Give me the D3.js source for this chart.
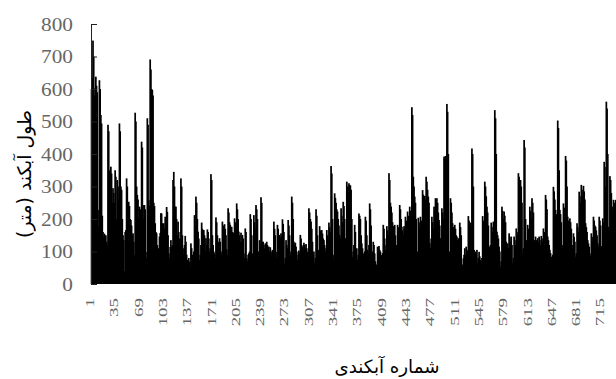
<!DOCTYPE html>
<html>
<head>
<meta charset="utf-8">
<script src="https://cdn.jsdelivr.net/npm/d3@7"></script>
<style>
  html, body { margin: 0; padding: 0; background: #fff; }
  svg { display: block; }
</style>
</head>
<body>
<svg id="chart" width="616" height="379"></svg>
<script>
// Gully lengths (m), gully #1 ... #734
const gullyLengths = [
  // 1 - 118
  600, 634, 749, 700, 580, 602, 638, 610, 590, 228, 176, 627, 600, 520, 494, 210,
  160, 145, 155, 140, 150, 130, 120, 490, 470, 350, 330, 361, 340, 250, 295, 280, 250,
  350, 330, 200, 320, 300, 260, 494, 470, 300, 290, 200, 150, 135, 40, 160, 166,
  325, 300, 180, 253, 240, 200, 197, 180, 150, 156, 130, 90, 527, 500, 300,
  274, 260, 200, 238, 230, 100, 438, 420, 243, 200, 243, 230, 99, 80, 510, 490,
  258, 240, 691, 660, 600, 597, 580, 250, 240, 187, 160, 156, 120, 48, 110,
  146, 157, 218, 217, 187, 160, 187, 170, 207, 180, 237, 222, 150, 94, 80, 114,
  135, 114, 120, 320, 345, 300, 238,
  // 119 - 240
  238, 200, 150, 192, 160, 140, 120, 325, 300, 150, 110, 90, 120, 148, 130, 90,
  74, 60, 80, 69, 50, 125, 110, 90, 58, 100, 212, 180, 269, 250, 200, 161, 140,
  74, 90, 120, 189, 170, 150, 166, 150, 100, 141, 120, 168, 160, 140, 99, 110,
  338, 320, 150, 120, 100, 94, 80, 205, 190, 150, 130, 120, 141, 130, 100, 90,
  192, 180, 160, 184, 170, 150, 107, 90, 233, 220, 190, 182, 170, 176, 160, 158, 120,
  202, 190, 170, 248, 230, 200, 161, 150, 130, 158, 130, 151, 140, 94, 80, 171, 160,
  79, 70, 90, 94, 100, 215, 200, 150, 94, 80, 212, 190, 170, 243, 230, 200,
  84, 100, 135, 120, 267, 250, 130,
  // 241 - 360
  130, 120, 110, 125, 110, 130, 120, 100, 115, 100, 113, 100, 90, 105, 95,
  192, 170, 150, 99, 80, 182, 170, 150, 151, 140, 156, 145, 199, 185, 160, 64, 80,
  135, 120, 110, 197, 180, 150, 89, 100, 269, 250, 200, 130, 120, 127, 115, 100,
  74, 90, 103, 95, 151, 140, 120, 115, 100, 127, 120, 110, 123, 110, 99, 85,
  233, 220, 200, 192, 170, 130, 89, 100, 64, 80, 230, 210, 150, 105, 95,
  178, 165, 150, 166, 155, 140, 135, 120, 99, 110, 166, 150, 140, 189, 175, 160,
  363, 340, 200, 74, 90, 279, 265, 250, 230, 223, 200, 180, 151, 140,
  233, 210, 190, 253, 240, 200, 141, 130, 315, 300, 280,
  // 361 - 483
  310, 305, 303, 290, 200, 84, 100, 120, 182, 160, 94, 110, 74, 90,
  217, 210, 200, 150, 125, 110, 94, 80, 100, 207, 195, 150, 105, 95, 120,
  248, 230, 180, 89, 100, 130, 120, 94, 70, 53, 60, 115, 110, 117, 105, 100,
  89, 75, 95, 182, 170, 140, 105, 120, 178, 165, 150, 341, 320, 250, 238, 220, 190,
  178, 160, 182, 150, 105, 120, 182, 175, 160, 243, 230, 200, 176, 165, 150, 178, 170,
  207, 195, 180, 223, 210, 190, 238, 225, 210, 544, 520, 330, 300, 269, 250, 200,
  79, 100, 204, 190, 170, 207, 195, 180, 289, 275, 250, 271, 260, 330, 315, 290,
  269, 250, 125, 110, 140, 207, 190, 170, 238, 225, 264, 250,
  // 484 - 606
  264, 250, 220, 197, 180, 141, 130, 233, 220, 200, 392, 385, 394, 380, 554, 530, 400,
  79, 100, 264, 250, 220, 187, 175, 160, 182, 170, 150, 146, 135, 141, 120,
  189, 175, 150, 43, 60, 79, 90, 110, 90, 115, 105, 100, 209, 195, 180, 189, 175,
  417, 400, 300, 105, 95, 100, 90, 105, 64, 80, 99, 85, 74, 65, 80, 209, 195, 180,
  315, 300, 270, 238, 220, 180, 115, 105, 120, 189, 175, 160, 192, 185, 535, 510, 400,
  161, 150, 140, 115, 100, 53, 70, 238, 225, 200, 223, 210, 190, 130, 120, 125, 110,
  156, 145, 130, 146, 120, 64, 80, 146, 135, 120, 171, 160, 150, 341, 330, 300,
  320, 300, 250, 94, 110, 443,
  // 607 - 734
  420, 200, 135, 120, 182, 170, 150, 238, 225, 200, 264, 250, 220, 135, 120,
  146, 135, 125, 141, 130, 146, 135, 120, 148, 140, 130, 171, 160, 150, 274, 260, 230,
  146, 135, 120, 105, 95, 84, 70, 90, 299, 285, 260, 228, 215, 200, 503, 480, 350,
  228, 215, 190, 120, 110, 248, 235, 210, 394, 380, 300, 207, 195, 180, 202, 190, 170,
  120, 110, 156, 145, 130, 84, 95, 187, 175, 160, 284, 270, 250, 305, 290, 270,
  302, 285, 260, 187, 175, 160, 135, 125, 115, 94, 85, 156, 145, 130, 207, 195, 180,
  176, 165, 150, 125, 115, 207, 195, 180, 117, 110, 202, 190, 376, 360, 300,
  561, 540, 400, 176, 165, 332, 320, 280, 238, 225, 259, 250, 240, 259
];

const xTickLabels = [1, 35, 69, 103, 137, 171, 205, 239, 273, 307, 341, 375, 409, 443,
                     477, 511, 545, 579, 613, 647, 681, 715];
const yTickValues = [0, 100, 200, 300, 400, 500, 600, 700, 800];
const yAxisTitle = "طول آبکند (متر)";
const xAxisTitle = "شماره آبکندی";

const svg = d3.select("#chart");
const gullyIds = gullyLengths.map((d, i) => i + 1);

const x = d3.scaleBand().domain(gullyIds).range([90.7, 615.5]).padding(0);
const y = d3.scaleLinear().domain([0, 800]).range([284, 24]);

// bars (slightly widened so neighbouring bars merge into solid black like the original)
svg.append("g")
  .selectAll("rect")
  .data(gullyLengths)
  .join("rect")
  .attr("x", (d, i) => x(gullyIds[i]))
  .attr("width", Math.min(x.bandwidth() + 1.0, 615.5))
  .attr("y", d => y(d))
  .attr("height", d => y(0) - y(d))
  .attr("fill", "#000");

// y axis line + inner ticks
const yAxisG = svg.append("g")
  .attr("transform", "translate(91,0)")
  .call(d3.axisRight(y).tickValues(yTickValues).tickSize(6).tickSizeOuter(0).tickFormat(""));
yAxisG.selectAll("path, line").attr("stroke", "#222").attr("stroke-width", 1);

// y tick labels
const yLab = svg.append("g")
  .selectAll("text")
  .data(yTickValues)
  .join("text")
  .attr("x", 73)
  .attr("y", d => y(d))
  .attr("dy", "0.35em")
  .attr("text-anchor", "end")
  .attr("font-family", "'Liberation Serif', 'Times New Roman', serif")
  .attr("font-size", 19)
  .attr("fill", "#666")
  .text(d => d);
yLab.each(function () {
  const len = this.getComputedTextLength();
  d3.select(this).attr("textLength", len * 1.12).attr("lengthAdjust", "spacingAndGlyphs");
});

// x tick labels (rotated)
const xLab = svg.append("g")
  .selectAll("text")
  .data(xTickLabels)
  .join("text")
  .attr("transform", d => `translate(${x(d) + x.bandwidth() / 2 - 1.5},298) rotate(-90)`)
  .attr("x", 0)
  .attr("y", 0)
  .attr("dy", "0.35em")
  .attr("text-anchor", "end")
  .attr("font-family", "'Liberation Serif', 'Times New Roman', serif")
  .attr("font-size", 12.6)
  .attr("fill", "#666")
  .text(d => d);
xLab.each(function () {
  const len = this.getComputedTextLength();
  d3.select(this).attr("textLength", len * 1.5).attr("lengthAdjust", "spacingAndGlyphs");
});

// axis titles
function fitText(sel, target) {
  const base = +sel.attr("font-size");
  const len = sel.node().getComputedTextLength();
  if (len > 0) sel.attr("font-size", base * target / len);
}

const yTitle = svg.append("text")
  .attr("transform", "translate(31,174) rotate(-90)")
  .attr("text-anchor", "middle")
  .attr("direction", "rtl")
  .style("direction", "rtl")
  .attr("font-family", "'DejaVu Sans', sans-serif")
  .attr("font-size", 17)
  .attr("fill", "#000")
  .text(yAxisTitle);
fitText(yTitle, 128);

const xTitle = svg.append("text")
  .attr("x", 387)
  .attr("y", 373)
  .attr("text-anchor", "middle")
  .attr("direction", "rtl")
  .style("direction", "rtl")
  .attr("font-family", "'DejaVu Sans', sans-serif")
  .attr("font-size", 16)
  .attr("fill", "#000")
  .text(xAxisTitle);
fitText(xTitle, 105);
</script>
</body>
</html>
